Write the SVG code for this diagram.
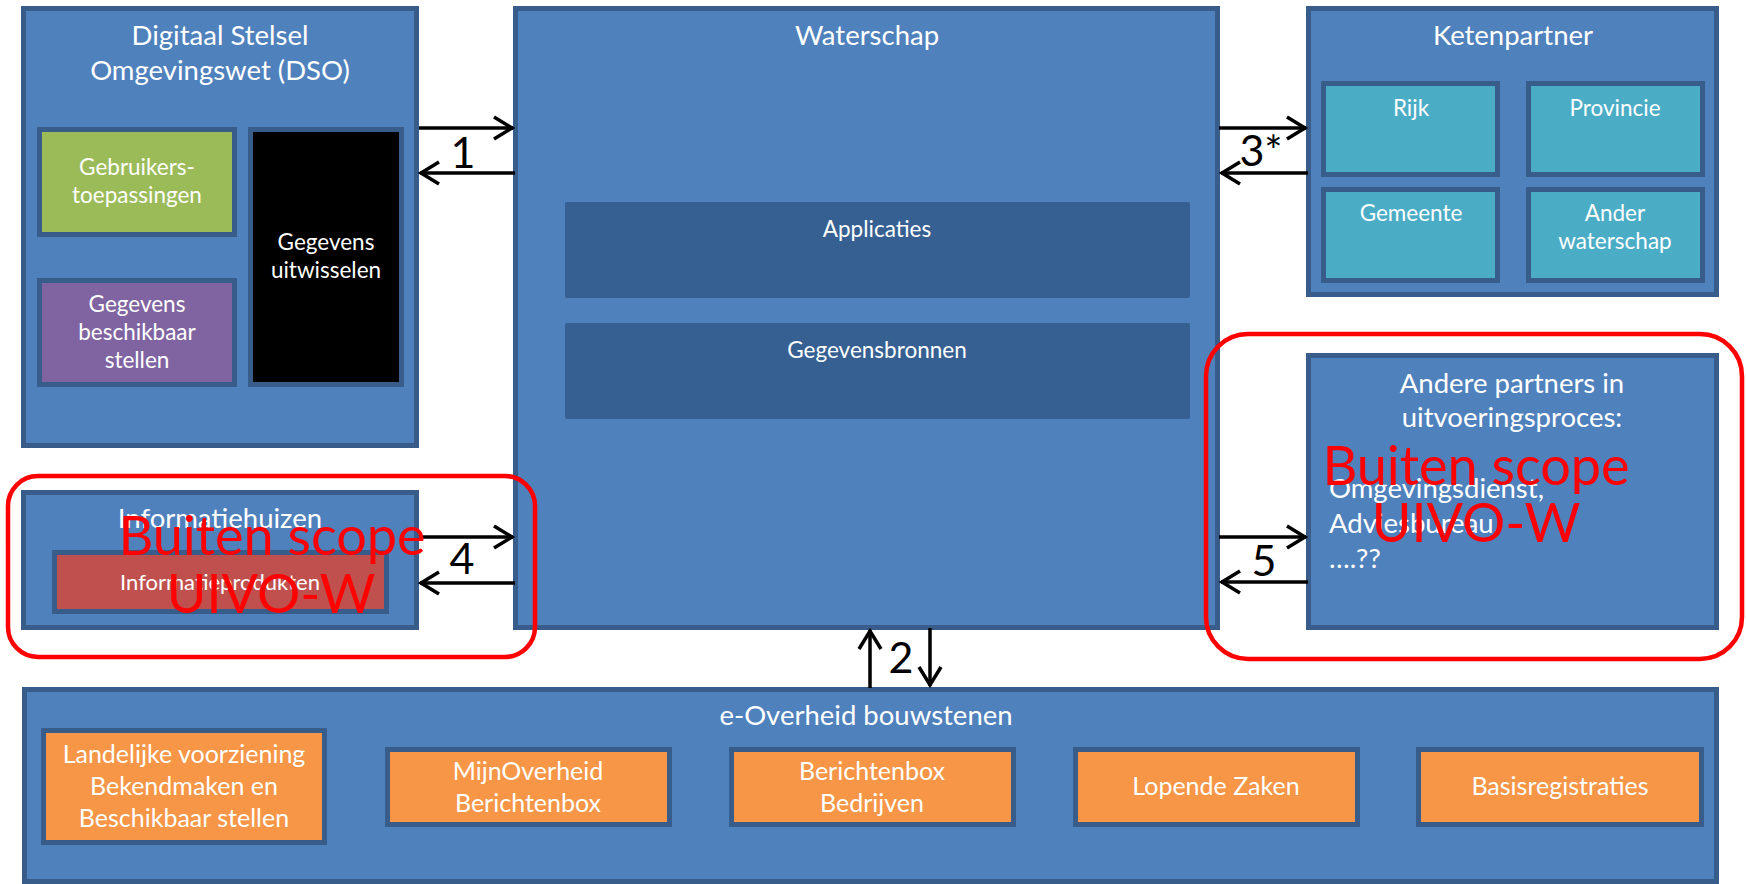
<svg xmlns="http://www.w3.org/2000/svg" width="1746" height="884" viewBox="0 0 1746 884">
<defs>
<style>
.box{fill:#4F81BD;stroke:#385D8A;stroke-width:5}
.dark{fill:#376092;stroke:none}
.green{fill:#9BBB59;stroke:#385D8A;stroke-width:5}
.purple{fill:#8064A2;stroke:#385D8A;stroke-width:5}
.black{fill:#000;stroke:#385D8A;stroke-width:5}
.teal{fill:#4BACC6;stroke:#385D8A;stroke-width:5}
.orange{fill:#F79646;stroke:#385D8A;stroke-width:5}
.redp{fill:#C0504D;stroke:#385D8A;stroke-width:5}
.scope{fill:none;stroke:#FF0000;stroke-width:4.5}
text{font-family:Lato,"Open Sans",sans-serif;fill:#fff;text-anchor:middle}
.t{font-size:27.5px}
.s{font-size:22.5px}
.o{font-size:25px}
.xs{font-size:22px}
.num{font-size:43px;fill:#000}
.red{font-size:54px;fill:#FF0000}
.arr{stroke:#000;stroke-width:3.5;fill:none;marker-end:url(#ah)}
</style>
<marker id="ah" viewBox="-25 -15 30 30" refX="0" refY="0" markerWidth="30" markerHeight="30" orient="auto" markerUnits="userSpaceOnUse">
<path d="M-19,-11 L-1,0 L-19,11" fill="none" stroke="#000" stroke-width="3.5"/>
</marker>
</defs>

<g id="dso">
<rect class="box" x="23.5" y="8.5" width="393" height="437"/>
<text class="t" x="220" y="45">Digitaal Stelsel</text>
<text class="t" x="220" y="80">Omgevingswet (DSO)</text>
</g>
<g id="gebruikers">
<rect class="green" x="39.5" y="129.5" width="195" height="105"/>
<text class="s" x="137" y="175">Gebruikers-</text>
<text class="s" x="137" y="203">toepassingen</text>
</g>
<g id="beschikbaar">
<rect class="purple" x="39.5" y="280.5" width="195" height="104"/>
<text class="s" x="137" y="312">Gegevens</text>
<text class="s" x="137" y="340">beschikbaar</text>
<text class="s" x="137" y="368">stellen</text>
</g>
<g id="uitwisselen">
<rect class="black" x="250.5" y="129.5" width="151" height="255"/>
<text class="s" x="326" y="250">Gegevens</text>
<text class="s" x="326" y="278">uitwisselen</text>
</g>

<g id="waterschap">
<rect class="box" x="515.5" y="8.5" width="702" height="619"/>
<text class="t" x="867" y="45">Waterschap</text>
</g>
<g id="applicaties">
<rect class="dark" x="565" y="202" width="625" height="96" rx="2"/>
<text class="s" x="877" y="237">Applicaties</text>
</g>
<g id="gegevensbronnen">
<rect class="dark" x="565" y="323" width="625" height="96" rx="2"/>
<text class="s" x="877" y="358">Gegevensbronnen</text>
</g>

<g id="ketenpartner">
<rect class="box" x="1308.5" y="8.5" width="408" height="286"/>
<text class="t" x="1513" y="45">Ketenpartner</text>
</g>
<g id="rijk">
<rect class="teal" x="1323.5" y="83.5" width="174" height="91"/>
<text class="s" x="1411" y="116">Rijk</text>
</g>
<g id="provincie">
<rect class="teal" x="1528.5" y="83.5" width="174" height="91"/>
<text class="s" x="1615" y="116">Provincie</text>
</g>
<g id="gemeente">
<rect class="teal" x="1323.5" y="189.5" width="174" height="91"/>
<text class="s" x="1411" y="221">Gemeente</text>
</g>
<g id="anderwaterschap">
<rect class="teal" x="1528.5" y="189.5" width="174" height="91"/>
<text class="s" x="1615" y="221">Ander</text>
<text class="s" x="1615" y="249">waterschap</text>
</g>

<g id="andere">
<rect class="box" x="1308.5" y="355.5" width="408" height="272"/>
<text class="t" x="1512" y="393">Andere partners in</text>
<text class="t" x="1512" y="427">uitvoeringsproces:</text>
<text class="t" x="1329" y="498" style="text-anchor:start">Omgevingsdienst,</text>
<text class="t" x="1329" y="533" style="text-anchor:start">Adviesbureau,</text>
<text class="t" x="1329" y="568" style="text-anchor:start">….??</text>
</g>

<g id="informatiehuizen">
<rect class="box" x="23.5" y="492.5" width="393" height="135"/>
<text class="t" x="220" y="528">Informatiehuizen</text>
</g>
<g id="informatieprodukten">
<rect class="redp" x="54.5" y="552.5" width="332" height="59"/>
<text class="xs" x="220" y="590">Informatieprodukten</text>
</g>

<g id="eoverheid">
<rect class="box" x="24.5" y="689.5" width="1692" height="192"/>
<text class="t" x="866" y="725">e-Overheid bouwstenen</text>
</g>
<g id="landelijke">
<rect class="orange" x="43.5" y="730.5" width="281" height="112"/>
<text class="o" x="184" y="763">Landelijke voorziening</text>
<text class="o" x="184" y="795">Bekendmaken en</text>
<text class="o" x="184" y="827">Beschikbaar stellen</text>
</g>
<g id="mijnoverheid">
<rect class="orange" x="387.5" y="749.5" width="282" height="75"/>
<text class="o" x="528" y="780">MijnOverheid</text>
<text class="o" x="528" y="812">Berichtenbox</text>
</g>
<g id="berichtenbox">
<rect class="orange" x="731.5" y="749.5" width="282" height="75"/>
<text class="o" x="872" y="780">Berichtenbox</text>
<text class="o" x="872" y="812">Bedrijven</text>
</g>
<g id="lopendezaken">
<rect class="orange" x="1075.5" y="749.5" width="282" height="75"/>
<text class="o" x="1216" y="795">Lopende Zaken</text>
</g>
<g id="basisregistraties">
<rect class="orange" x="1418.5" y="749.5" width="283" height="75"/>
<text class="o" x="1560" y="795">Basisregistraties</text>
</g>

<g id="connectors">
<line class="arr" x1="419" y1="128" x2="513" y2="128"/>
<line class="arr" x1="515" y1="173" x2="420" y2="173"/>
<text class="num" x="463" y="168">1</text>
<line class="arr" x1="1219" y1="128" x2="1306" y2="128"/>
<line class="arr" x1="1308" y1="173" x2="1221" y2="173"/>
<text class="num" x="1261" y="166">3*</text>
<line class="arr" x1="419" y1="537" x2="513" y2="537"/>
<line class="arr" x1="515" y1="583" x2="420" y2="583"/>
<text class="num" x="462" y="574">4</text>
<line class="arr" x1="1219" y1="537" x2="1306" y2="537"/>
<line class="arr" x1="1308" y1="582" x2="1221" y2="582"/>
<text class="num" x="1264" y="576">5</text>
<line class="arr" x1="870" y1="688" x2="870" y2="630"/>
<line class="arr" x1="930" y1="628" x2="930" y2="686"/>
<text class="num" x="901" y="673">2</text>
</g>

<g id="scope-left">
<rect class="scope" x="8" y="476" width="527" height="181" rx="30"/>
<text class="red" x="272" y="555">Buiten scope</text>
<text class="red" x="271" y="613">UIVO-W</text>
</g>
<g id="scope-right">
<rect class="scope" x="1206" y="334" width="536" height="325" rx="42"/>
<text class="red" x="1476" y="485">Buiten scope</text>
<text class="red" x="1476" y="542">UIVO-W</text>
</g>
</svg>
